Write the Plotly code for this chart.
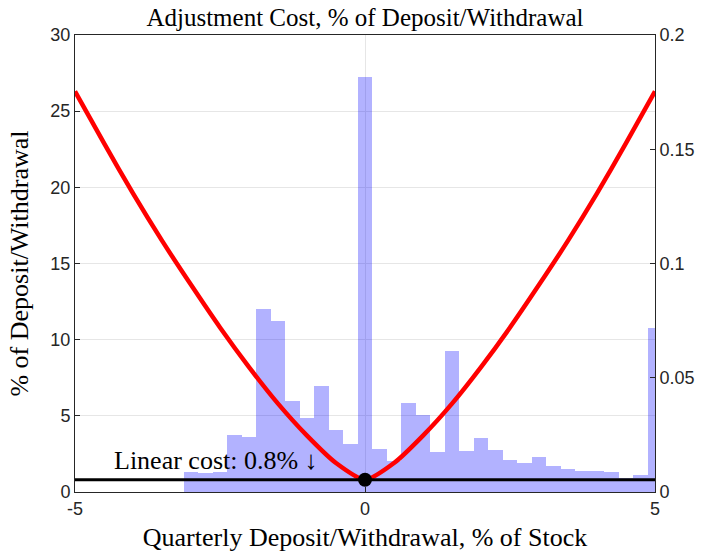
import plotly.graph_objects as go

# Histogram of quarterly deposits/withdrawals (right axis, density)
bin_centers = [-3.0, -2.75, -2.5, -2.25, -2.0, -1.75, -1.5, -1.25, -1.0, -0.75, -0.5, -0.25,
               0.0, 0.25, 0.5, 0.75, 1.0, 1.25, 1.5, 1.75, 2.0, 2.25, 2.5, 2.75, 3.0,
               3.25, 3.5, 3.75, 4.0, 4.25, 4.5, 4.75, 5.0]
hist_density = [0.0089, 0.0085, 0.0086, 0.0249, 0.0242, 0.0800, 0.0750, 0.0400, 0.0322, 0.0464, 0.0271, 0.0210,
                0.1815, 0.0187, 0.0137, 0.0391, 0.0337, 0.0175, 0.0618, 0.0181, 0.0236, 0.0184, 0.0140, 0.0126, 0.0152,
                0.0115, 0.0101, 0.0090, 0.0093, 0.0086, 0.0061, 0.0073, 0.0718]
bin_width = 0.25

# Adjustment cost curve (left axis, % of deposit/withdrawal)
curve_x = [-5.0, -4.5, -4.0, -3.5, -3.0, -2.5, -2.0, -1.5, -1.0, -0.5, 0.0,
           0.5, 1.0, 1.5, 2.0, 2.5, 3.0, 3.5, 4.0, 4.5, 5.0]
curve_cost = [26.3, 22.9, 19.6, 16.5, 13.6, 10.8, 8.2, 5.8, 3.7, 1.9, 0.8,
              1.9, 3.7, 5.8, 8.2, 10.8, 13.6, 16.5, 19.6, 22.9, 26.3]

linear_x = [-5, 5]
linear_cost = [0.8, 0.8]
dot_x = [0]
dot_y = [0.8]

x_ticks = [-5, 0, 5]
x_tick_labels = ["-5", "0", "5"]
left_ticks = [0, 5, 10, 15, 20, 25, 30]
right_ticks = [0, 0.05, 0.1, 0.15, 0.2]
right_tick_labels = ["0", "0.05", "0.1", "0.15", "0.2"]

serif = "Liberation Serif"
sans = "Liberation Sans"
axcol = "#262626"

fig = go.Figure()

fig.add_trace(go.Bar(
    x=bin_centers, y=hist_density, width=[bin_width] * len(bin_centers),
    marker=dict(color="rgba(0,0,255,0.30)", line=dict(width=0)),
    yaxis="y", xaxis="x", showlegend=False, hoverinfo="skip"))

fig.add_trace(go.Scatter(
    x=curve_x, y=curve_cost, mode="lines", line=dict(color="#ff0000", width=4.5, shape="spline", smoothing=0.6),
    yaxis="y2", showlegend=False))

fig.add_trace(go.Scatter(
    x=linear_x, y=linear_cost, mode="lines", line=dict(color="black", width=3),
    yaxis="y2", showlegend=False))

fig.add_trace(go.Scatter(
    x=dot_x, y=dot_y, mode="markers", marker=dict(color="black", size=14),
    yaxis="y2", showlegend=False, cliponaxis=False))

fig.add_annotation(
    x=-4.36, y=2.05, xref="x", yref="y2", text="Linear cost: 0.8% \u2193",
    showarrow=False, xanchor="left", yanchor="middle",
    font=dict(family=serif, size=26, color="black"))

fig.update_layout(
    width=703, height=554,
    margin=dict(l=75, r=48, t=35, b=62, autoexpand=False),
    paper_bgcolor="white", plot_bgcolor="white",
    bargap=0,
    title=dict(text="Adjustment Cost, % of Deposit/Withdrawal", x=0.5, xref="paper", xanchor="center",
               y=0.968, yref="container", yanchor="middle", font=dict(family=serif, size=25, color="black")),
    xaxis=dict(range=[-5, 5], tickvals=x_ticks, ticktext=x_tick_labels, ticks="inside", ticklen=5, tickcolor=axcol,
               showline=True, linecolor=axcol, linewidth=1, mirror=True, automargin=False,
               showgrid=True, gridcolor="#e6e6e6", zeroline=False,
               tickfont=dict(family=sans, size=18, color=axcol),
               title=dict(text="Quarterly Deposit/Withdrawal, % of Stock", standoff=10,
                          font=dict(family=serif, size=26, color="black"))),
    yaxis=dict(range=[0, 0.2], side="right", tickvals=right_ticks, ticktext=right_tick_labels,
               ticks="inside", ticklen=5, tickcolor=axcol, automargin=False,
               showline=True, linecolor=axcol, linewidth=1,
               showgrid=False, zeroline=False,
               tickfont=dict(family=sans, size=18, color=axcol)),
    yaxis2=dict(range=[0, 30], side="left", overlaying="y", tickvals=left_ticks,
                ticks="inside", ticklen=5, tickcolor=axcol, automargin=False,
                showline=True, linecolor=axcol, linewidth=1,
                showgrid=True, gridcolor="#e6e6e6", zeroline=False,
                tickfont=dict(family=sans, size=18, color=axcol),
                title=dict(text="% of Deposit/Withdrawal", standoff=14,
                           font=dict(family=serif, size=26, color="black"))),
)

fig.write_html("out.html", config={"displayModeBar": False},
               post_script="document.body.style.margin='0px';")
